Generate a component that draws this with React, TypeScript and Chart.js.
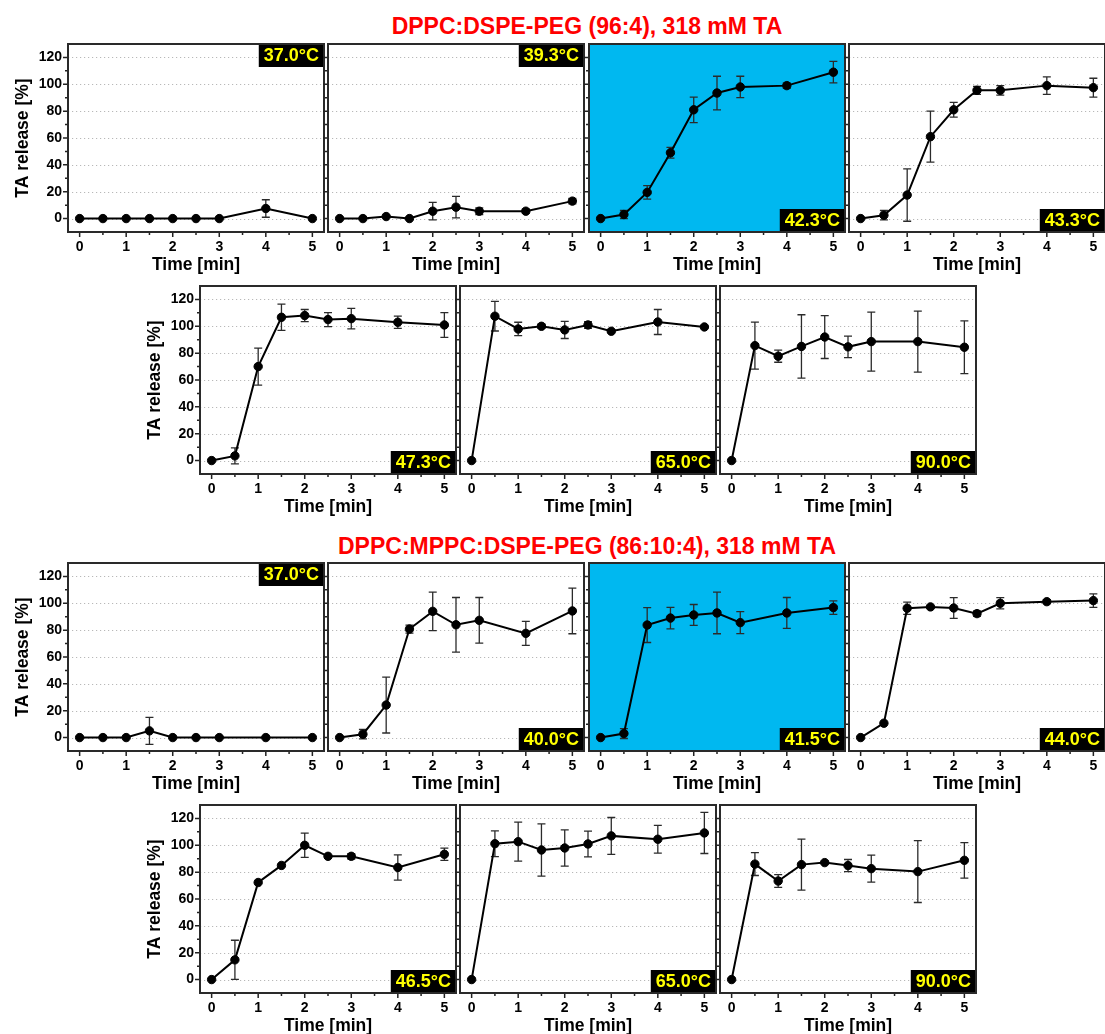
import React, { useEffect, useRef } from "react";
import { Chart, registerables } from "chart.js";

Chart.register(...registerables);

// ---------------- data ----------------
const timeMin = [0, 0.5, 1, 1.5, 2, 2.5, 3, 4, 5];
const xTickValues = [0, 1, 2, 3, 4, 5];
const xMinorTicks = [0.5, 1.5, 2.5, 3.5, 4.5];
const yTickValues = [0, 20, 40, 60, 80, 100, 120];
const yMinorTicks = [10, 30, 50, 70, 90, 110];

const titleA = "DPPC:DSPE-PEG (96:4), 318 mM TA";
const titleB = "DPPC:MPPC:DSPE-PEG (86:10:4), 318 mM TA";
const xTitle = "Time [min]";
const yTitle = "TA release [%]";

// DPPC:DSPE-PEG (96:4)
const a370 = [0, 0, 0, 0, 0, 0, 0, 7.5, 0];
const a370Err = [0, 0, 0, 0, 0, 0, 0, 6.5, 0];
const a393 = [0, 0, 1.5, 0, 5.5, 8.5, 5.5, 5.5, 13];
const a393Err = [0, 0, 0, 0, 6.5, 8, 2.5, 1.5, 2];
const a423 = [0, 3, 19.5, 49, 81, 93.5, 98, 99, 109];
const a423Err = [0, 3, 5, 4, 9.5, 12.5, 8, 2, 8];
const a433 = [0, 2.5, 17.5, 61, 81, 95.5, 95.5, 99, 97.5];
const a433Err = [0, 3.5, 19.5, 19, 5.5, 3, 3.5, 6.5, 7];
const a473 = [0, 3.5, 70, 106.7, 108, 105, 105.7, 103, 101];
const a473Err = [0, 6, 13.8, 9.8, 4.5, 5.2, 7.7, 4.6, 9.2];
const a650 = [0, 107.5, 98, 100, 97.3, 101, 96.3, 103.2, 99.5];
const a650Err = [0, 11, 5, 1.5, 6.4, 2.5, 1, 9.3, 1];
const a900 = [0, 85.6, 77.7, 85, 92, 84.7, 88.6, 88.6, 84.4];
const a900Err = [0, 17.5, 4.5, 23.6, 16, 8, 22, 22.7, 19.7];

// DPPC:MPPC:DSPE-PEG (86:10:4)
const b370 = [0, 0, 0, 5, 0, 0, 0, 0, 0];
const b370Err = [0, 0, 0, 10, 0, 0, 0, 0, 0];
const b400 = [0, 2.5, 24.2, 80.8, 94, 84, 87.3, 77.6, 94.3];
const b400Err = [0, 3.5, 20.8, 3, 14.3, 20.3, 17, 9, 17];
const b415 = [0, 3, 83.8, 89, 91.3, 92.8, 85.6, 92.8, 96.8];
const b415Err = [0, 3.7, 13, 8, 7.8, 15.5, 8.2, 11.5, 5];
const b440 = [0, 10.7, 96.3, 97.3, 96.5, 92.3, 100, 101.2, 102];
const b440Err = [0, 0, 4.5, 1, 7.7, 2, 4.2, 1.5, 5];
const b465 = [0, 14.7, 72.3, 85, 100, 91.8, 91.8, 83.5, 93.3];
const b465Err = [0, 14.6, 0, 0, 9, 0, 2, 9.4, 4.6];
const b650 = [0, 101.2, 102.7, 96.5, 98, 101, 107, 104.5, 109.2];
const b650Err = [0, 9.6, 14.5, 19.4, 13.5, 9.6, 13.7, 10.3, 15.3];
const b900 = [0, 86, 73.4, 85.6, 87.1, 84.9, 82.6, 80.4, 88.8];
const b900Err = [0, 8.5, 4.8, 19, 1, 4.5, 10, 23, 13.2];

const rowsData = [
  [
    { temp: "37.0°C", values: a370, errors: a370Err, highlight: false, badgeTop: true },
    { temp: "39.3°C", values: a393, errors: a393Err, highlight: false, badgeTop: true },
    { temp: "42.3°C", values: a423, errors: a423Err, highlight: true, badgeTop: false },
    { temp: "43.3°C", values: a433, errors: a433Err, highlight: false, badgeTop: false },
  ],
  [
    { temp: "47.3°C", values: a473, errors: a473Err, highlight: false, badgeTop: false },
    { temp: "65.0°C", values: a650, errors: a650Err, highlight: false, badgeTop: false },
    { temp: "90.0°C", values: a900, errors: a900Err, highlight: false, badgeTop: false },
  ],
  [
    { temp: "37.0°C", values: b370, errors: b370Err, highlight: false, badgeTop: true },
    { temp: "40.0°C", values: b400, errors: b400Err, highlight: false, badgeTop: false },
    { temp: "41.5°C", values: b415, errors: b415Err, highlight: true, badgeTop: false },
    { temp: "44.0°C", values: b440, errors: b440Err, highlight: false, badgeTop: false },
  ],
  [
    { temp: "46.5°C", values: b465, errors: b465Err, highlight: false, badgeTop: false },
    { temp: "65.0°C", values: b650, errors: b650Err, highlight: false, badgeTop: false },
    { temp: "90.0°C", values: b900, errors: b900Err, highlight: false, badgeTop: false },
  ],
];

// ---------------- layout ----------------
const PLOT_W = 256;
const PLOT_H = 188;
const PAD_T = 16;
const PAD_R = 10;
const AXIS_B = 46;
const AXIS_L_WIDE = 68;
const AXIS_L_NARROW = 10;
const rowTops = [44, 286, 563, 805];
const colLeftsWide = [68, 328, 589, 849];
const colLeftsNarrow = [200, 460, 720];
const FONT = '"Liberation Sans", Arial, Helvetica, sans-serif';
const BLUE = "#00b8f0";

function makeDeco(p) {
  return {
    id: "deco",
    beforeDraw(chart) {
      const { ctx, chartArea: a } = chart;
      const y = chart.scales.y;
      ctx.save();
      if (p.highlight) {
        ctx.fillStyle = BLUE;
        ctx.fillRect(a.left, a.top, a.right - a.left, a.bottom - a.top);
      } else {
        ctx.strokeStyle = "#b8b8b8";
        ctx.lineWidth = 1;
        ctx.setLineDash([1.2, 2.8]);
        for (const v of yTickValues) {
          const py = Math.round(y.getPixelForValue(v)) + 0.5;
          ctx.beginPath();
          ctx.moveTo(a.left, py);
          ctx.lineTo(a.right, py);
          ctx.stroke();
        }
      }
      ctx.restore();
    },
    beforeDatasetsDraw(chart) {
      const { ctx } = chart;
      const x = chart.scales.x;
      const y = chart.scales.y;
      ctx.save();
      ctx.strokeStyle = "#2b2b2b";
      ctx.lineWidth = 1.3;
      p.values.forEach((v, i) => {
        const e = p.errors[i];
        if (!e) return;
        const px = x.getPixelForValue(timeMin[i]);
        const y1 = y.getPixelForValue(v + e);
        const y2 = y.getPixelForValue(v - e);
        ctx.beginPath();
        ctx.moveTo(px, y1);
        ctx.lineTo(px, y2);
        ctx.moveTo(px - 4, y1);
        ctx.lineTo(px + 4, y1);
        ctx.moveTo(px - 4, y2);
        ctx.lineTo(px + 4, y2);
        ctx.stroke();
      });
      ctx.restore();
    },
    afterDraw(chart) {
      const { ctx, chartArea: a } = chart;
      const x = chart.scales.x;
      const y = chart.scales.y;
      ctx.save();
      // badge
      ctx.font = `bold 18px ${FONT}`;
      const tw = ctx.measureText(p.temp).width;
      const bw = tw + 10;
      const bh = 23;
      const bx = a.right - bw;
      const by = p.badgeTop ? a.top : a.bottom - bh;
      ctx.fillStyle = "#000";
      ctx.fillRect(bx, by, bw, bh);
      ctx.fillStyle = "#ffff00";
      ctx.textAlign = "center";
      ctx.textBaseline = "middle";
      ctx.fillText(p.temp, bx + bw / 2, by + bh / 2 + 1);
      // ticks
      ctx.strokeStyle = "#222";
      ctx.lineWidth = 1.5;
      ctx.beginPath();
      for (const v of xTickValues) {
        const px = x.getPixelForValue(v);
        ctx.moveTo(px, a.bottom);
        ctx.lineTo(px, a.bottom + 5);
      }
      for (const v of xMinorTicks) {
        const px = x.getPixelForValue(v);
        ctx.moveTo(px, a.bottom);
        ctx.lineTo(px, a.bottom + 3);
      }
      for (const v of yTickValues) {
        const py = y.getPixelForValue(v);
        ctx.moveTo(a.left, py);
        ctx.lineTo(a.left - 5, py);
      }
      for (const v of yMinorTicks) {
        const py = y.getPixelForValue(v);
        ctx.moveTo(a.left, py);
        ctx.lineTo(a.left - 3, py);
      }
      ctx.stroke();
      // frame
      ctx.strokeStyle = "#2a2a2a";
      ctx.lineWidth = 2;
      ctx.strokeRect(a.left, a.top, a.right - a.left, a.bottom - a.top);
      ctx.restore();
    },
  };
}

function Panel({ p, left, top, showY }) {
  const ref = useRef(null);
  const L = showY ? AXIS_L_WIDE : AXIS_L_NARROW;
  const W = L + PLOT_W + PAD_R;
  const H = PAD_T + PLOT_H + AXIS_B;
  useEffect(() => {
    const chart = new Chart(ref.current, {
      type: "line",
      data: {
        datasets: [
          {
            data: timeMin.map((t, i) => ({ x: t, y: p.values[i] })),
            borderColor: "#000",
            borderWidth: 2,
            pointRadius: 4.2,
            pointHoverRadius: 4.2,
            pointBackgroundColor: "#000",
            pointBorderColor: "#000",
            pointBorderWidth: 1,
            tension: 0,
            fill: false,
          },
        ],
      },
      options: {
        animation: false,
        responsive: false,
        devicePixelRatio: 1,
        events: [],
        layout: { padding: { top: PAD_T, right: PAD_R, left: 0, bottom: 0 } },
        plugins: { legend: { display: false }, tooltip: { enabled: false } },
        scales: {
          x: {
            type: "linear",
            min: -0.25,
            max: 5.25,
            afterBuildTicks: (s) => {
              s.ticks = xTickValues.map((v) => ({ value: v }));
            },
            afterFit: (s) => {
              s.height = AXIS_B;
            },
            grid: { display: false, drawTicks: false },
            border: { display: false },
            ticks: {
              padding: 7,
              color: "#000",
              maxRotation: 0,
              autoSkip: false,
              font: { family: FONT, size: 14, weight: "bold" },
            },
            title: {
              display: true,
              text: xTitle,
              color: "#000",
              padding: { top: 0, bottom: 2 },
              font: { family: FONT, size: 17.5, weight: "bold" },
            },
          },
          y: {
            type: "linear",
            min: -10,
            max: 130,
            afterBuildTicks: (s) => {
              s.ticks = yTickValues.map((v) => ({ value: v }));
            },
            afterFit: (s) => {
              s.width = L;
            },
            grid: { display: false, drawTicks: false },
            border: { display: false },
            ticks: {
              display: showY,
              padding: 6,
              color: "#000",
              font: { family: FONT, size: 14, weight: "bold" },
            },
            title: {
              display: showY,
              text: yTitle,
              color: "#000",
              padding: { top: 12.5, bottom: 0 },
              font: { family: FONT, size: 17.5, weight: "bold" },
            },
          },
        },
      },
      plugins: [makeDeco(p)],
    });
    return () => chart.destroy();
  }, []);
  return (
    <canvas
      ref={ref}
      width={W}
      height={H}
      style={{ position: "absolute", left: left - L, top: top - PAD_T, width: W, height: H }}
    />
  );
}

const titleStyle = {
  position: "absolute",
  left: 287,
  width: 600,
  textAlign: "center",
  color: "#ff0000",
  font: `bold 23px ${FONT}`,
  lineHeight: "26px",
  whiteSpace: "nowrap",
};

export default function App() {
  return (
    <div
      style={{
        position: "absolute",
        left: 0,
        top: 0,
        width: 1105,
        height: 1034,
        overflow: "hidden",
        background: "#fff",
      }}
    >
      <div style={{ ...titleStyle, top: 13 }}>{titleA}</div>
      <div style={{ ...titleStyle, top: 533 }}>{titleB}</div>
      {rowsData.map((row, r) =>
        row.map((p, c) => (
          <Panel
            key={`${r}-${c}`}
            p={p}
            left={row.length === 4 ? colLeftsWide[c] : colLeftsNarrow[c]}
            top={rowTops[r]}
            showY={c === 0}
          />
        ))
      )}
    </div>
  );
}
